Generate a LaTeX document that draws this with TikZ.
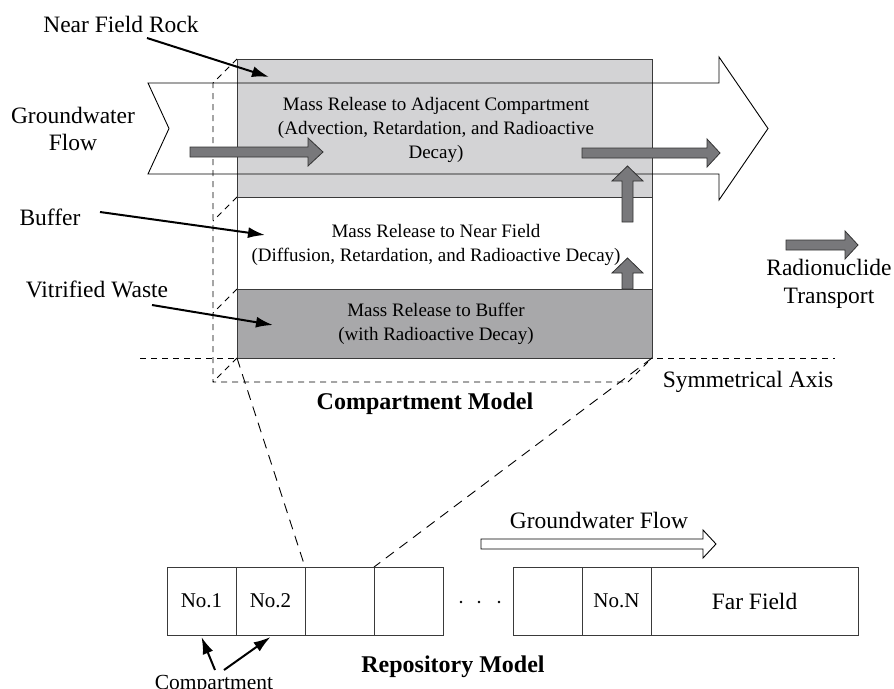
\documentclass[tikz,border=0pt]{standalone}
\usepackage{fontspec}
\setmainfont{Liberation Serif}
\usetikzlibrary{arrows.meta}
\definecolor{rockgray}{HTML}{D3D3D5}
\definecolor{wastegray}{HTML}{A8A8AA}
\definecolor{flowgray}{HTML}{78787B}
\definecolor{edgegray}{HTML}{3A3A3A}

\begin{document}
\begin{tikzpicture}[x=1pt,y=-1pt,
  tag/.style={font=\fontsize{23.5}{27}\selectfont, align=center, inner sep=0},
  boxtext/.style={font=\fontsize{19}{24}\selectfont, align=center, inner sep=0},
  heading/.style={font=\fontsize{24}{28}\selectfont\bfseries, inner sep=0},
  pointer/.style={line width=2pt, -{Latex[length=17pt,width=11pt]}},
  backedge/.style={dash pattern=on 6pt off 5pt, line width=0.9pt},
  projline/.style={dash pattern=on 10pt off 7pt, line width=0.9pt},
  slab/.style={draw=edgegray, line width=1pt},
  flowarrow/.style={fill=flowgray, draw=black!80, line width=0.8pt},
  openarrow/.style={draw=black, line width=0.9pt},
  cell/.style={draw=edgegray, line width=1pt, minimum height=68pt, inner sep=0, outer sep=0,
               font=\fontsize{21}{24}\selectfont}]

\useasboundingbox (0,0) rectangle (894,688);

% ---------- compartment model (front face) ----------
\fill[rockgray]  (237,59)  rectangle (652,197);
\fill[wastegray] (237,289) rectangle (652,358);

% symmetrical axis
\draw[backedge] (140,358) -- (835,358);

% hidden back edges of the compartment block
\draw[backedge] (237,59) -- (213,83) -- (213,382) -- (628,382) -- (652,358);
\draw[backedge] (237,197) -- (213,221);
\draw[backedge] (237,289) -- (213,313);
\draw[backedge] (237,358) -- (213,382);

% front face outline and layer boundaries
\draw[slab] (237,59) rectangle (652,358);
\draw[slab] (237,197) -- (652,197);
\draw[slab] (237,289) -- (652,289);

% groundwater flow (open block arrow through the near field rock)
\draw[openarrow] (148,83) -- (719,83) -- (719,57) -- (768,128.5) -- (719,200)
  -- (719,174) -- (148,174) -- (169,128.5) -- cycle;

% radionuclide transport arrows
\draw[flowarrow] (190,147) -- (308,147) -- (308,138) -- (323,152) -- (308,166)
  -- (308,157) -- (190,157) -- cycle;
\draw[flowarrow] (582,148) -- (707,148) -- (707,139) -- (720,153) -- (707,167)
  -- (707,158) -- (582,158) -- cycle;
\draw[flowarrow] (622,222) -- (622,181) -- (612,181) -- (627.5,166) -- (643,181)
  -- (633,181) -- (633,222) -- cycle;
\draw[flowarrow] (622,289) -- (622,273) -- (612,273) -- (627.5,258) -- (643,273)
  -- (633,273) -- (633,289) -- cycle;

% legend arrow
\draw[flowarrow] (786,240) -- (845,240) -- (845,231) -- (858,245) -- (845,259)
  -- (845,250) -- (786,250) -- cycle;

% texts inside the compartments
\node[boxtext] (rocktext) at (436,129.5)
  {Mass Release to Adjacent Compartment\\(Advection, Retardation, and Radioactive\\Decay)};
\node[boxtext] (buffertext) at (436,245)
  {Mass Release to Near Field\\(Diffusion, Retardation, and Radioactive Decay)};
\node[boxtext] (wastetext) at (436,324)
  {Mass Release to Buffer\\(with Radioactive Decay)};

% labels
\node[tag] (rocklabel) at (121,24) {Near Field Rock};
\node[tag] (gwlabel) at (73,129) {Groundwater\\Flow};
\node[tag] (bufferlabel) at (50,217) {Buffer};
\node[tag] (wastelabel) at (97,289) {Vitrified Waste};
\node[tag] (axislabel) at (748,382) {Symmetrical Axis};
\node[tag, font=\fontsize{23.5}{28}\selectfont] (rnlabel) at (829,284) {Radionuclide\\Transport};
\node[heading] (cmtitle) at (425,404) {Compartment Model};

% pointers to the layers
\coordinate (rockA) at (147,38);   \coordinate (rockB) at (269,77);
\coordinate (bufA)  at (100,212);  \coordinate (bufB)  at (265,235);
\coordinate (wasA)  at (152,305);  \coordinate (wasB)  at (273,325);
\draw[pointer] (rockA) -- (rockB);
\draw[pointer] (bufA) -- (bufB);
\draw[pointer] (wasA) -- (wasB);

% ---------- repository model ----------
\node[cell, minimum width=69pt]  (c1) at (201.5,601) {No.1};
\node[cell, minimum width=69pt]  (c2) at (270.5,601) {No.2};
\node[cell, minimum width=69pt]  (c3) at (339.5,601) {};
\node[cell, minimum width=69pt]  (c4) at (408.5,601) {};
\node[cell, minimum width=69pt]  (c5) at (547.5,601) {};
\node[cell, minimum width=69pt]  (c6) at (616.5,601) {No.N};
\node[cell, minimum width=207pt, font=\fontsize{23.5}{27}\selectfont] (far) at (754.5,601) {Far Field};

\foreach \xd in {461,479,499} \fill (\xd,602) circle (1.4);

% projection of the compartment block onto one repository cell
\coordinate (blockBL) at (237,358);
\coordinate (blockBR) at (652,358);
\draw[projline] (blockBL) -- (c3.north west);
\draw[projline] (blockBR) -- (c4.north west);

% groundwater flow along the repository
\node[tag] (gwflow) at (599,520) {Groundwater Flow};
\draw[openarrow] (481,539) -- (703,539) -- (703,530) -- (716,544) -- (703,558)
  -- (703,549) -- (481,549) -- cycle;

\node[heading] (rmtitle) at (453,667) {Repository Model};

% compartment label and its pointers
\node[tag, font=\fontsize{21.5}{24}\selectfont, anchor=base] (cmplabel) at (214,689) {Compartment};
\coordinate (cmpA) at (215,670);
\coordinate (cmpB) at (224,670);
\draw[pointer] (cmpA) -- ([yshift=-2pt]c1.south);
\draw[pointer] (cmpB) -- ([yshift=-2pt]c2.south);

\end{tikzpicture}
\end{document}
